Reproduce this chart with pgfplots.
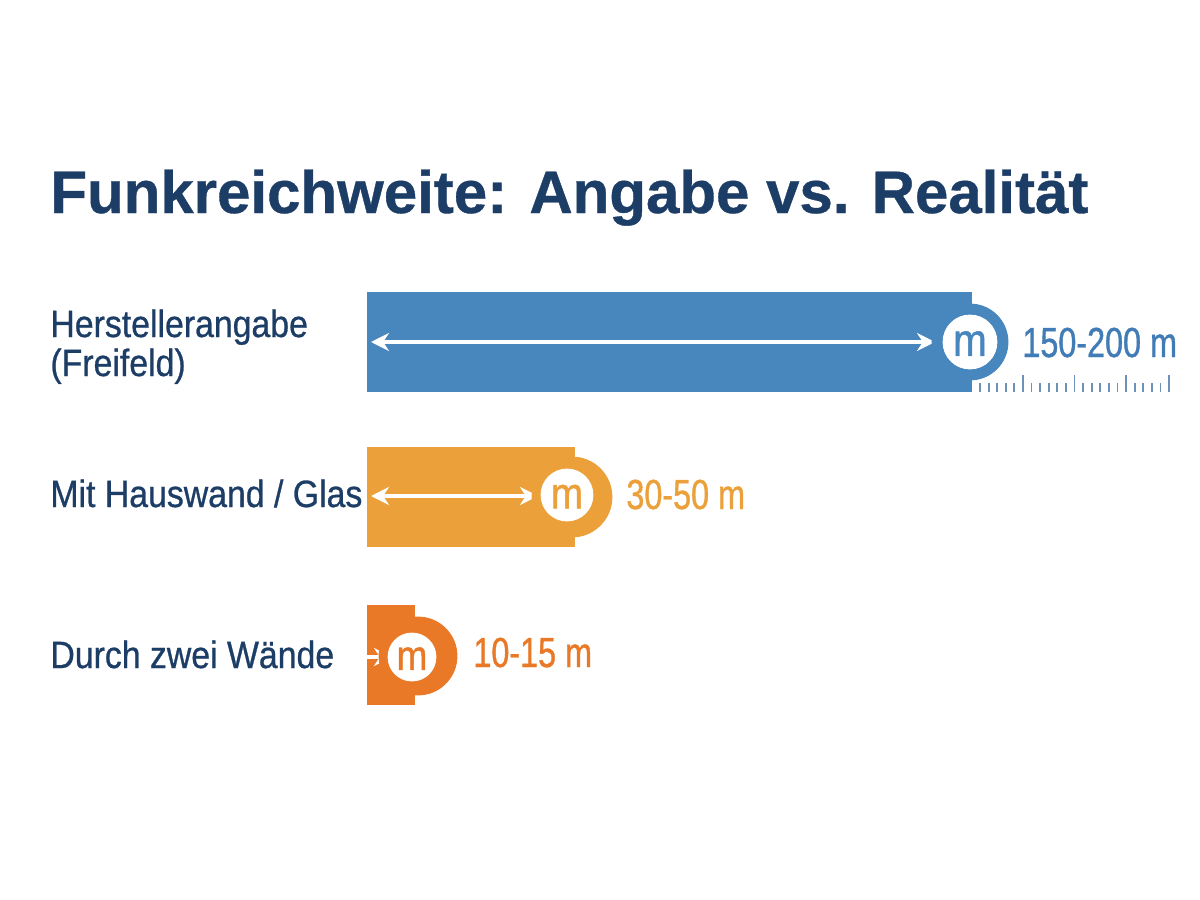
\documentclass[border=0pt]{standalone}
\usepackage{pgfplots}
\pgfplotsset{compat=1.18}
\usetikzlibrary{arrows.meta}
\usepackage{fontspec}
\setmainfont{Liberation Sans}
\newfontfamily\titlefont[FakeBold=0.6]{Liberation Sans}
\newfontfamily\labfont[FakeStretch=0.89,FakeBold=0.7]{Liberation Sans}
\newfontfamily\valfont[FakeStretch=0.77,FakeBold=0.9]{Liberation Sans}
\newfontfamily\mfont[FakeStretch=0.88,FakeBold=1]{Liberation Sans}
\definecolor{navy}{RGB}{28,61,102}
\definecolor{cblue}{RGB}{72,134,190}
\definecolor{cblueT}{RGB}{66,124,182}
\definecolor{corange}{RGB}{236,160,58}
\definecolor{cdark}{RGB}{233,121,38}
\definecolor{cruler}{RGB}{110,145,185}
\begin{document}
\begin{tikzpicture}
\begin{axis}[
  x=0.5pt, y=0.5pt, y dir=reverse,
  xmin=-367, xmax=833, ymin=0, ymax=900,
  hide axis, clip=false,
]
\path (axis cs:-367,0) rectangle (axis cs:833,900);
% bars
\addplot[xbar, bar width=100, bar shift=0pt, fill=cblue, draw=none] coordinates {(605,342)};
\addplot[xbar, bar width=100, bar shift=0pt, fill=corange, draw=none] coordinates {(208,497)};
\addplot[xbar, bar width=100, bar shift=0pt, fill=cdark, draw=none] coordinates {(48,655)};
% bumps
\addplot[only marks, mark=*, mark size=19pt, color=cblue] coordinates {(603,342)};
\addplot[only marks, mark=*, mark size=20pt, color=corange] coordinates {(205,497)};
\addplot[only marks, mark=*, mark size=19.5pt, color=cdark] coordinates {(51,656)};
% arrows
\addplot[white, line width=2pt, {Stealth[length=9pt,width=9pt]}-{Stealth[length=9pt,width=9pt]}] coordinates {(4,342) (568,342)};
\addplot[white, line width=2pt, {Stealth[length=9pt,width=9pt]}-{Stealth[length=9pt,width=9pt]}] coordinates {(4,496) (171,496)};
\addplot[white, line width=2pt, -{Stealth[length=9pt,width=9pt]}] coordinates {(0,657) (25,657)};
% white circles with "m"
\addplot[only marks, mark=*, mark size=13.5pt, color=white,
  nodes near coords={m},
  every node near coord/.append style={anchor=center, inner sep=0pt, yshift=-0.8pt, text=cblue, font=\mfont\fontsize{23}{26}\selectfont}]
  coordinates {(603,342)};
\addplot[only marks, mark=*, mark size=13pt, color=white,
  nodes near coords={m},
  every node near coord/.append style={anchor=center, inner sep=0pt, yshift=-0.8pt, text=corange, font=\mfont\fontsize{22}{26}\selectfont}]
  coordinates {(200,495)};
\addplot[only marks, mark=*, mark size=12pt, color=white,
  nodes near coords={m},
  every node near coord/.append style={anchor=center, inner sep=0pt, yshift=-0.8pt, text=cdark, font=\mfont\fontsize{21}{26}\selectfont}]
  coordinates {(45,657)};
% ruler
\pgfplotsinvokeforeach{0,...,22}{
  \draw[cruler, line width=0.9pt] (axis cs:{613+#1*8.59},392) -- (axis cs:{613+#1*8.59},383);
}
\pgfplotsinvokeforeach{5,11,17,22}{
  \draw[cruler, line width=0.9pt] (axis cs:{613+#1*8.59},392) -- (axis cs:{613+#1*8.59},375);
}
% values
\node[anchor=base west, inner sep=0pt, text=cblueT, font=\valfont\fontsize{21}{24}\selectfont] at (axis cs:655,357) {150-200 m};
\node[anchor=base west, inner sep=0pt, text=corange, font=\valfont\fontsize{21}{24}\selectfont] at (axis cs:259,509) {30-50 m};
\node[anchor=base west, inner sep=0pt, text=cdark, font=\valfont\fontsize{21}{24}\selectfont] at (axis cs:106,667) {10-15 m};
% labels
\node[anchor=base west, inner sep=0pt, text=navy, font=\labfont\fontsize{19}{22}\selectfont] at (axis cs:-317,337) {Herstellerangabe};
\node[anchor=base west, inner sep=0pt, text=navy, font=\labfont\fontsize{19}{22}\selectfont] at (axis cs:-317,376) {(Freifeld)};
\node[anchor=base west, inner sep=0pt, text=navy, font=\labfont\fontsize{19}{22}\selectfont] at (axis cs:-317,507) {Mit Hauswand / Glas};
\node[anchor=base west, inner sep=0pt, text=navy, font=\labfont\fontsize{19}{22}\selectfont] at (axis cs:-317,668) {Durch zwei Wände};
% title
\node[anchor=base west, inner sep=0pt, text=navy, font=\titlefont\bfseries\fontsize{30}{34}\selectfont] at (axis cs:-317,213) {Funkreichweite: Angabe vs. Realität};
\end{axis}
\end{tikzpicture}
\end{document}
